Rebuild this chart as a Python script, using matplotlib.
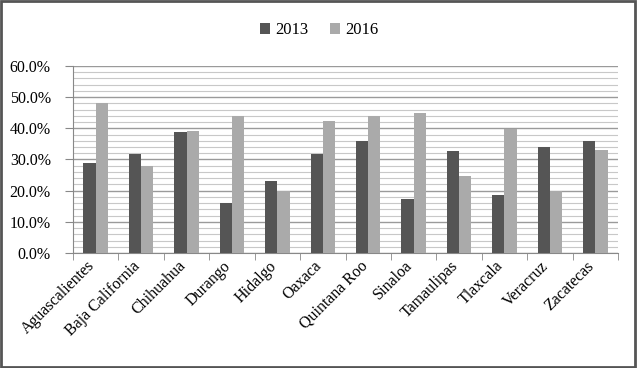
import numpy as np
import matplotlib.pyplot as plt
import matplotlib.transforms as mtransforms
from matplotlib.patches import Rectangle
from matplotlib.ticker import MultipleLocator, PercentFormatter

states = ["Aguascalientes", "Baja California", "Chihuahua", "Durango", "Hidalgo",
          "Oaxaca", "Quintana Roo", "Sinaloa", "Tamaulipas", "Tlaxcala",
          "Veracruz", "Zacatecas"]
v2013 = [29.0, 31.8, 38.7, 15.9, 23.2, 31.8, 35.9, 17.3, 32.6, 18.7, 33.9, 35.9]
v2016 = [48.0, 27.9, 39.1, 43.8, 19.8, 42.5, 43.8, 44.8, 24.8, 39.8, 19.8, 32.9]

plt.rcParams['font.family'] = ['Liberation Serif', 'DejaVu Serif']

fig = plt.figure(figsize=(6.38, 3.68), dpi=100)
ax = fig.add_axes([0.1144, 0.3125, 0.8543, 0.5082])

x = np.arange(len(states))
w = 0.27
ax.bar(x - w / 2, v2013, w, color="#555555", label="2013", zorder=3)
ax.bar(x + w / 2, v2016, w, color="#aaaaaa", label="2016", zorder=3)

ax.set_xlim(-0.5, len(states) - 0.5)
ax.set_ylim(0, 60)
ax.yaxis.set_major_locator(MultipleLocator(10))
ax.yaxis.set_minor_locator(MultipleLocator(2))
ax.yaxis.set_major_formatter(PercentFormatter(decimals=1))
ax.grid(axis="y", which="major", color="#9a9a9a", linewidth=1.0, zorder=0)
ax.grid(axis="y", which="minor", color="#c8c8c8", linewidth=0.8, zorder=0)

ax.set_xticks(x)
ax.set_xticks(np.arange(len(states) + 1) - 0.5, minor=True)
ax.tick_params(axis="x", which="major", length=0, labelbottom=False)
ax.tick_params(axis="x", which="minor", length=5, color="#888888", direction="out")
ax.tick_params(axis="y", which="major", length=6, color="#888888", labelsize=11.5, pad=10)
ax.tick_params(axis="y", which="minor", length=0)

# rotated category labels, end of text just left of the group centre
shift = mtransforms.ScaledTranslation(-0.09, -0.05, fig.dpi_scale_trans)
for xi, name in zip(x, states):
    ax.text(xi, 0, name, rotation=45, ha="right", va="top", rotation_mode="anchor",
            fontsize=11.5, transform=ax.get_xaxis_transform() + shift)

for side in ["top", "right"]:
    ax.spines[side].set_visible(False)
for side in ["left", "bottom"]:
    ax.spines[side].set_color("#888888")

fig.legend(loc="center", bbox_to_anchor=(0.5, 0.918), ncol=2, frameon=False,
           fontsize=12, handlelength=0.6, handleheight=0.6, handletextpad=0.3,
           columnspacing=1.3)

fig.patches.append(Rectangle((0.002, 0.003), 0.993, 0.993, transform=fig.transFigure,
                             fill=False, edgecolor="#555555", linewidth=2))

fig.savefig("out.png", dpi=100)
